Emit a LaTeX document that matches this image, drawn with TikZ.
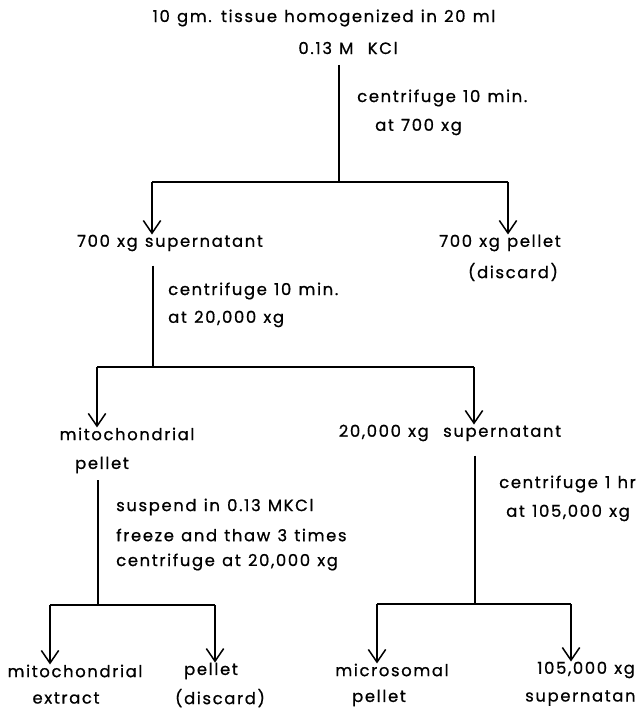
\documentclass[tikz,border=0pt]{standalone}
\usepackage{fontspec}
\usepackage{tikz}
\usetikzlibrary{arrows.meta,positioning,calc}
\newfontfamily\geofont{Poppins}[LetterSpace=10, FakeBold=0.8, WordSpace=1.2]

\begin{document}
\begin{tikzpicture}[x=0.03cm,y=-0.03cm,
        lbl/.style={font=\geofont\fontsize{14}{16}\selectfont, inner sep=0pt},
        note/.style={lbl, anchor=west},
        line/.style={line width=1.5pt},
        arrow/.style={line, -{Straight Barb[length=3.8mm, width=5.2mm, line width=1.3pt]}}
    ]
        \useasboundingbox (0,0) rectangle (637,710);
        \clip (0,0) rectangle (637,710);

        % starting material
        \node[lbl] (homog) at (324,18) {10 gm. tissue homogenized in 20 ml};
        \node[lbl] (kcl) at (348,48) {0.13 M\ \ KCl};
        \node[note] (spin1a) at (357,98) {centrifuge 10 min.};
        \node[note] (spin1b) at (375,127) {at 700 xg};

        % first spin
        \node[lbl] (sup700) at (170,243) {700 xg supernatant};
        \node[lbl] (pel700) at (500,243) {700 xg pellet};
        \node[lbl] (disc700) at (513,272) {(discard)};
        \node[note] (spin2a) at (168,291) {centrifuge 10 min.};
        \node[note] (spin2b) at (168,319) {at 20,000 xg};

        % second spin
        \node[lbl] (mito) at (127,434) {mitochondrial};
        \node[lbl] (mitopel) at (102,465) {pellet};
        \node[lbl] (sup20k) at (450,433) {20,000 xg\ \ supernatant};
        \node[note] (susp) at (116,507) {suspend in 0.13 MKCl};
        \node[note] (freeze) at (116,535) {freeze and thaw 3 times};
        \node[note] (spin3) at (116,562) {centrifuge at 20,000 xg};
        \node[note] (spin4a) at (499,484) {centrifuge 1 hr.};
        \node[note] (spin4b) at (506,513) {at 105,000 xg};

        % fractions
        \node[lbl] (mitoex) at (75,671) {mitochondrial};
        \node[lbl] (extract) at (66,698) {extract};
        \node[lbl] (pellet) at (211,671) {pellet};
        \node[lbl] (disc) at (220,698) {(discard)};
        \node[lbl] (micro) at (392,670) {microsomal};
        \node[lbl] (micropel) at (379,698) {pellet};
        \node[note] (sup105) at (537,670) {105,000 xg};
        \node[note] (supnat) at (525,698) {supernatant};

        % branch points
        \coordinate (j1) at (339,182);
        \coordinate (j1l) at (152,182);
        \coordinate (j1r) at (508,182);
        \coordinate (j2) at (153,367);
        \coordinate (j2l) at (97,367);
        \coordinate (j2r) at (474,367);
        \coordinate (j3) at (98,605);
        \coordinate (j3l) at (50,605);
        \coordinate (j3r) at (215,605);
        \coordinate (j4) at (475,604);
        \coordinate (j4l) at (377,604);
        \coordinate (j4r) at (571,604);

        \draw[line, shorten <=9pt] (kcl.south -| j1) -- (j1);
        \draw[line] (j1l) -- (j1r);
        \draw[arrow] (j1l) -- (j1l |- sup700.north);
        \draw[arrow] (j1r) -- (j1r |- pel700.north);

        \draw[line, shorten <=12pt] (sup700.south -| j2) -- (j2);
        \draw[line] (j2l) -- (j2r);
        \draw[arrow] (j2l) -- (j2l |- mito.north);
        \draw[arrow] (j2r) -- (j2r |- sup20k.north);

        \draw[line, shorten <=6pt] (mitopel.south -| j3) -- (j3);
        \draw[line] (j3l) -- (j3r);
        \draw[arrow] (j3l) -- (j3l |- mitoex.north);
        \draw[arrow] (j3r) -- (j3r |- pellet.north);

        \draw[line, shorten <=12pt] (sup20k.south -| j4) -- (j4);
        \draw[line] (j4l) -- (j4r);
        \draw[arrow] (j4l) -- (j4l |- micro.north);
        \draw[arrow] (j4r) -- (j4r |- sup105.north);
    \end{tikzpicture}
\end{document}
